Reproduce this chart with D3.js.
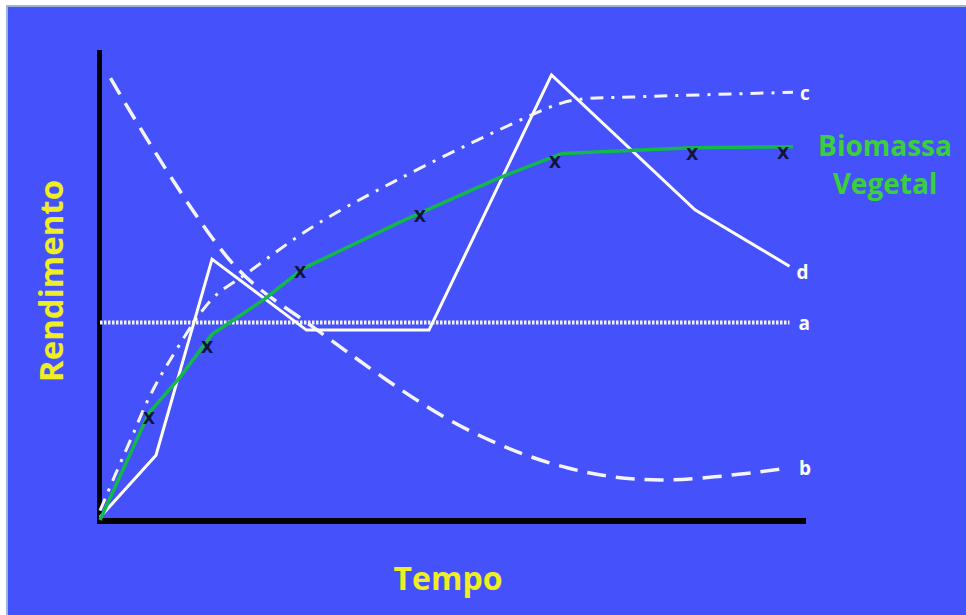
<!DOCTYPE html>
<html>
<head>
<meta charset="utf-8">
<script src="https://cdn.jsdelivr.net/npm/d3@7"></script>
<style>
  body { margin: 0; background: #ffffff; }
  text { font-family: "Open Sans", sans-serif; font-weight: bold; }
</style>
</head>
<body>
<div id="grafico"></div>
<script>
// curva a (pontilhada)
var tempoA = [0, 9.85];
var valorA = [4.2, 4.2];
// curva b (tracejada)
var tempoB = [0.15, 1.9, 3.05, 5.15, 6.7, 8.0, 9.8];
var valorB = [9.4, 5.45, 4.1, 2.0, 1.1, 0.85, 1.1];
// curva c (traço-ponto)
var tempoC = [0, 0.2, 0.45, 0.7, 1.0, 1.6, 2.1, 3.05, 4.2, 5.7, 6.55, 6.85, 7.6, 9.9];
var valorC = [0.2, 0.9, 1.75, 2.6, 3.4, 4.7, 5.25, 6.25, 7.2, 8.3, 8.85, 8.95, 9.0, 9.1];
// curva d (continua)
var tempoD = [0, 0.8, 1.6, 2.95, 4.7, 6.45, 8.5, 9.85];
var valorD = [0.06, 1.38, 5.55, 4.04, 4.04, 9.47, 6.6, 5.4];
// biomassa vegetal
var tempoBio = [0, 0.7, 1.15, 1.6, 2.35, 2.9, 4.3, 5.7, 6.6, 8.45, 9.9];
var valorBio = [0, 2.28, 3.05, 3.95, 4.7, 5.35, 6.35, 7.28, 7.8, 7.92, 7.94];
// marcas x
var tempoMarca = [0.7, 1.53, 2.86, 4.57, 6.5, 8.46, 9.76];
var valorMarca = [2.17, 3.68, 5.26, 6.45, 7.6, 7.77, 7.81];

var width = 966, height = 615;

var svg = d3.select("#grafico").append("svg")
    .attr("width", width)
    .attr("height", height);

// fundo azul com borda clara
svg.append("rect")
    .attr("x", 7)
    .attr("y", 6)
    .attr("width", width + 10)
    .attr("height", height + 10)
    .style("fill", "#4551fa")
    .style("stroke", "#9bb6d6")
    .style("stroke-width", 2);

var x = d3.scaleLinear().domain([0, 10]).range([100, 800]);
var y = d3.scaleLinear().domain([0, 10]).range([520, 50]);

function pares(t, v) {
    return t.map(function (d, i) { return [d, v[i]]; });
}

var linha = d3.line()
    .x(function (d) { return x(d[0]); })
    .y(function (d) { return y(d[1]); });

var linhaCurva = d3.line()
    .x(function (d) { return x(d[0]); })
    .y(function (d) { return y(d[1]); })
    .curve(d3.curveCatmullRom.alpha(0.5));

// eixos
svg.append("line")
    .attr("x1", x(0) - 0.5).attr("x2", x(0) - 0.5)
    .attr("y1", y(10)).attr("y2", y(0) + 4)
    .style("stroke", "#000")
    .style("stroke-width", 5);

svg.append("line")
    .attr("x1", x(0) - 3).attr("x2", x(10) + 6)
    .attr("y1", y(0) + 1).attr("y2", y(0) + 1)
    .style("stroke", "#000")
    .style("stroke-width", 6);

// a
svg.append("path")
    .attr("d", linha(pares(tempoA, valorA)))
    .style("fill", "none")
    .style("stroke", "#f4f4ff")
    .style("stroke-width", 4)
    .style("stroke-dasharray", "2.5,1.5");

// b
svg.append("path")
    .attr("d", linhaCurva(pares(tempoB, valorB)))
    .style("fill", "none")
    .style("stroke", "#f4f4ff")
    .style("stroke-width", 3.5)
    .style("stroke-dasharray", "19,10");

// c
svg.append("path")
    .attr("d", linhaCurva(pares(tempoC, valorC)))
    .style("fill", "none")
    .style("stroke", "#f4f4ff")
    .style("stroke-width", 3)
    .style("stroke-dasharray", "13,8,3,8");

// d
svg.append("path")
    .attr("d", linha(pares(tempoD, valorD)))
    .style("fill", "none")
    .style("stroke", "#ffffff")
    .style("stroke-width", 3)
    .style("stroke-linejoin", "miter");

// biomassa
svg.append("path")
    .attr("d", linha(pares(tempoBio, valorBio)))
    .style("fill", "none")
    .style("stroke", "#12b84a")
    .style("stroke-width", 3.5);

svg.selectAll(".marca")
    .data(pares(tempoMarca, valorMarca))
    .enter().append("text")
    .attr("class", "marca")
    .attr("x", function (d) { return x(d[0]); })
    .attr("y", function (d) { return y(d[1]); })
    .attr("dy", ".35em")
    .style("text-anchor", "middle")
    .style("font-size", "16px")
    .style("font-family", "'DejaVu Sans', sans-serif")
    .style("fill", "#12133a")
    .text("X");

// rotulos das curvas
var rotulos = [
    {nome: "a", t: tempoA, v: valorA, dx: 9, dy: 1},
    {nome: "b", t: tempoB, v: valorB, dx: 13, dy: 0},
    {nome: "c", t: tempoC, v: valorC, dx: 7, dy: 1},
    {nome: "d", t: tempoD, v: valorD, dx: 7, dy: 6}
];

svg.selectAll(".rotulo")
    .data(rotulos)
    .enter().append("text")
    .attr("class", "rotulo")
    .attr("x", function (d) { return x(d.t[d.t.length - 1]) + d.dx; })
    .attr("y", function (d) { return y(d.v[d.v.length - 1]) + d.dy; })
    .attr("dy", ".35em")
    .style("font-size", "19px")
    .style("fill", "#ffffff")
    .text(function (d) { return d.nome; });

svg.append("text")
    .attr("x", 885)
    .attr("y", 156)
    .style("text-anchor", "middle")
    .style("font-size", "28px")
    .style("fill", "#3ccf3c")
    .text("Biomassa");

svg.append("text")
    .attr("x", 885)
    .attr("y", 194)
    .style("text-anchor", "middle")
    .style("font-size", "28px")
    .style("fill", "#3ccf3c")
    .text("Vegetal");

svg.append("text")
    .attr("transform", "translate(63,281) rotate(-90)")
    .style("text-anchor", "middle")
    .style("font-size", "33px")
    .style("fill", "#eeee22")
    .text("Rendimento");

svg.append("text")
    .attr("x", 448)
    .attr("y", 590)
    .style("text-anchor", "middle")
    .style("font-size", "32px")
    .style("fill", "#eeee22")
    .text("Tempo");
</script>
</body>
</html>
